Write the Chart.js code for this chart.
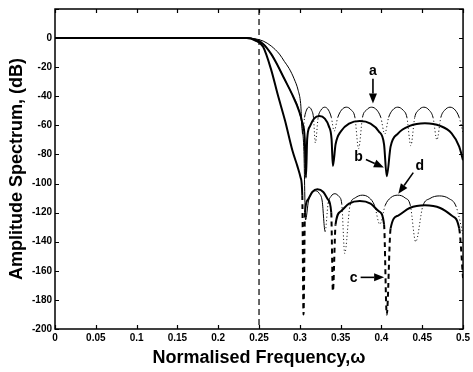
<!DOCTYPE html>
<html>
<head>
<meta charset="utf-8">
<script src="https://cdn.jsdelivr.net/npm/chart.js@4.4.0/dist/chart.umd.min.js"></script>
<style>
html, body { margin: 0; padding: 0; background: #fff; }
#wrap { width: 473px; height: 372px; }
</style>
</head>
<body>
<div id="wrap"><canvas id="chart" width="473" height="372"></canvas></div>
<script>
// axis ticks
const xTicks = [0, 0.05, 0.1, 0.15, 0.2, 0.25, 0.3, 0.35, 0.4, 0.45, 0.5];
const yTicks = [-200, -180, -160, -140, -120, -100, -80, -60, -40, -20, 0];
const yTicksFrame = [-200, -180, -160, -140, -120, -100, -80, -60, -40, -20, 0, 20];
const cutoff = 0.25;

// curve a: thin, small ripples near -47 dB
const freqA = [0, 0.1, 0.2, 0.235, 0.245, 0.255, 0.265, 0.275, 0.281, 0.287, 0.293, 0.298, 0.301,
  0.3035, 0.3058, 0.3082, 0.311, 0.3144, 0.3167,
  0.319, 0.3225, 0.3259, 0.3305, 0.3351, 0.3386,
  0.342, 0.3465, 0.351, 0.357, 0.363, 0.3675,
  0.372, 0.3768, 0.3816, 0.388, 0.3944, 0.3992,
  0.404, 0.4088, 0.4136, 0.42, 0.4264, 0.4312,
  0.436, 0.4408, 0.4456, 0.452, 0.4584, 0.4632,
  0.468, 0.4728, 0.4776, 0.484, 0.4904, 0.4952, 0.5];
const dbA = [0, 0, 0, 0, -0.5, -2, -5.5, -11, -16, -21, -28, -36, -45,
  -66, -54.5, -49.5, -47.5, -49.5, -54.5,
  -72, -54.5, -49.5, -47.5, -49.5, -54.5,
  -64, -54.5, -49.5, -47.5, -49.5, -54.5,
  -76, -54.5, -49.5, -47.5, -49.5, -54.5,
  -66, -54.5, -49.5, -47.5, -49.5, -54.5,
  -74, -54.5, -49.5, -47.5, -49.5, -54.5,
  -70, -54.5, -49.5, -47.5, -49.5, -54.5, -65];

// curve b: thick, stopband near -55 dB
const freqB = [0, 0.1, 0.2, 0.235, 0.245, 0.255, 0.265, 0.273, 0.281, 0.29, 0.299, 0.303, 0.306,
  0.3075, 0.309, 0.3125, 0.3174, 0.324, 0.3306, 0.3355, 0.3389,
  0.3405, 0.3438, 0.3504, 0.3603, 0.3735, 0.3867, 0.3966, 0.4032,
  0.4065, 0.4112, 0.4205, 0.4346, 0.4533, 0.472, 0.486, 0.4953, 0.5];
const dbB = [0, 0, 0, 0, -1, -4, -11, -19, -28, -38, -50, -58, -69,
  -96, -69.5, -60.5, -55.3, -53.5, -55.3, -60.5, -69.5,
  -88, -73, -64, -58.8, -57, -58.8, -64, -73,
  -95, -74.6, -65.5, -60.4, -58.6, -60.4, -65.5, -74.6, -84];

// curve c: thick, stopband near -110 dB, deep nulls dashed
const freqC = [0, 0.1, 0.2, 0.235, 0.245, 0.255, 0.265, 0.273, 0.282, 0.291, 0.297, 0.301, 0.303,
  0.3045, 0.3063, 0.3099, 0.3153, 0.3215, 0.3287, 0.3345, 0.3385,
  0.3405, 0.3438, 0.3504, 0.3603, 0.3735, 0.3867, 0.3966, 0.4032,
  0.4065, 0.4112, 0.4205, 0.4346, 0.4533, 0.472, 0.486, 0.4953, 0.5];
const dbC = [0, 0, 0, 0, -1.5, -6, -22, -39, -57, -77.5, -88, -96, -108,
  -190, -120, -111, -105.8, -104, -105.8, -111, -120,
  -174, -128, -119, -113.8, -112, -113.8, -119, -128,
  -190, -131, -122, -116.8, -115, -116.8, -122, -131, -165];

// curve d: thin, stopband near -108 dB, dips dotted
const freqD = [0, 0.1, 0.2, 0.235, 0.245, 0.255, 0.265, 0.273, 0.281, 0.29, 0.299, 0.303, 0.305,
  0.307, 0.3106, 0.3142, 0.319, 0.3238, 0.3274,
  0.331, 0.3346, 0.3382, 0.343, 0.3478, 0.3514,
  0.355, 0.3615, 0.3679, 0.3765, 0.3851, 0.3915,
  0.398, 0.4046, 0.4112, 0.42, 0.4288, 0.4354,
  0.442, 0.4507, 0.4594, 0.471, 0.4826, 0.4913, 0.5];
const dbD = [0, 0, 0, 0, -1, -4, -11, -19, -28, -38, -50, -62, -78,
  -125, -112, -106.8, -105, -106.8, -112,
  -133, -114, -108.8, -107, -108.8, -114,
  -148, -115, -109.8, -108, -109.8, -115,
  -128, -115, -109.8, -108, -109.8, -115,
  -140, -115.5, -110.3, -108.5, -110.3, -115.5, -135];

// curve labels with arrows (data units)
const labelText = ['a', 'b', 'c', 'd'];
const labelX = [0.3896, 0.372, 0.366, 0.447];
const labelY = [-22.6, -82, -165, -88];
const arrowFromX = [0.3896, 0.381, 0.3745, 0.439];
const arrowFromY = [-28, -83.5, -164.5, -92.5];
const arrowToX = [0.3896, 0.403, 0.4033, 0.4207];
const arrowToY = [-45, -89, -164.5, -107];

const FONT = "'Liberation Sans', Arial, sans-serif";

function pts(f, d) {
  return f.map((x, i) => ({ x: x, y: d[i] }));
}

function bothBelow(limit, pattern) {
  return ctx => (ctx.p0.parsed.y < limit && ctx.p1.parsed.y < limit) ? pattern : undefined;
}

function eitherBelow(limit, pattern) {
  return ctx => (Math.min(ctx.p0.parsed.y, ctx.p1.parsed.y) < limit) ? pattern : undefined;
}

const framePlugin = {
  id: 'frame',
  afterDatasetsDraw(chart) {
    const c = chart.ctx;
    const a = chart.chartArea;
    const sx = chart.scales.x, sy = chart.scales.y;
    c.save();
    c.strokeStyle = '#000';
    c.lineWidth = 1.5;
    c.strokeRect(a.left, a.top, a.right - a.left, a.bottom - a.top);
    c.lineWidth = 1.2;
    c.beginPath();
    xTicks.forEach(v => {
      const px = Math.round(sx.getPixelForValue(v)) + 0.5;
      c.moveTo(px, a.bottom); c.lineTo(px, a.bottom - 4);
      c.moveTo(px, a.top); c.lineTo(px, a.top + 4);
    });
    yTicksFrame.forEach(v => {
      const py = Math.round(sy.getPixelForValue(v)) + 0.5;
      c.moveTo(a.left, py); c.lineTo(a.left + 4, py);
      c.moveTo(a.right, py); c.lineTo(a.right - 4, py);
    });
    c.stroke();

    // labels and arrows
    c.fillStyle = '#000';
    c.font = 'bold 14px ' + FONT;
    c.textAlign = 'center';
    c.textBaseline = 'middle';
    labelText.forEach((t, i) => {
      c.fillText(t, sx.getPixelForValue(labelX[i]), sy.getPixelForValue(labelY[i]));
      const x0 = sx.getPixelForValue(arrowFromX[i]), y0 = sy.getPixelForValue(arrowFromY[i]);
      const x1 = sx.getPixelForValue(arrowToX[i]), y1 = sy.getPixelForValue(arrowToY[i]);
      const ang = Math.atan2(y1 - y0, x1 - x0);
      const hl = 10, hw = 4;
      const bx = x1 - hl * Math.cos(ang), by = y1 - hl * Math.sin(ang);
      c.lineWidth = 1.6;
      c.beginPath();
      c.moveTo(x0, y0); c.lineTo(bx, by);
      c.stroke();
      c.beginPath();
      c.moveTo(x1, y1);
      c.lineTo(bx + hw * Math.sin(ang), by - hw * Math.cos(ang));
      c.lineTo(bx - hw * Math.sin(ang), by + hw * Math.cos(ang));
      c.closePath();
      c.fill();
    });
    c.restore();
  }
};

const chart = new Chart(document.getElementById('chart'), {
  type: 'line',
  data: {
    datasets: [
      {
        data: [{ x: cutoff, y: 20 }, { x: cutoff, y: -200 }],
        borderColor: '#000', borderWidth: 1.2, borderDash: [6, 4], pointRadius: 0
      },
      {
        data: pts(freqA, dbA), borderColor: '#000', borderWidth: 1, pointRadius: 0,
        cubicInterpolationMode: 'monotone',
        segment: { borderDash: bothBelow(-52, [1, 2.5]) }
      },
      {
        data: pts(freqD, dbD), borderColor: '#000', borderWidth: 1, pointRadius: 0,
        cubicInterpolationMode: 'monotone',
        segment: { borderDash: bothBelow(-113, [1, 2.5]) }
      },
      {
        data: pts(freqB, dbB), borderColor: '#000', borderWidth: 2, pointRadius: 0,
        cubicInterpolationMode: 'monotone'
      },
      {
        data: pts(freqC, dbC), borderColor: '#000', borderWidth: 2, pointRadius: 0,
        cubicInterpolationMode: 'monotone',
        segment: { borderDash: eitherBelow(-140, [5, 4]) }
      }
    ]
  },
  options: {
    responsive: false,
    devicePixelRatio: 1,
    animation: false,
    events: [],
    layout: { padding: { top: 4, right: 6, left: 0, bottom: 0 } },
    plugins: { legend: { display: false }, tooltip: { enabled: false } },
    scales: {
      x: {
        type: 'linear', min: 0, max: 0.5,
        grid: { display: false, drawTicks: false }, border: { display: false },
        afterBuildTicks: s => { s.ticks = xTicks.map(v => ({ value: v })); },
        afterFit: s => { s.height = 43; },
        ticks: {
          color: '#000', padding: 3, maxRotation: 0,
          font: { family: FONT, size: 10, weight: 'bold' },
          callback: v => String(+(+v).toFixed(2))
        },
        title: {
          display: true, text: 'Normalised Frequency,ω', color: '#000',
          font: { family: FONT, size: 18, weight: 'bold' },
          padding: { top: 0, bottom: 3 }
        }
      },
      y: {
        type: 'linear', min: -200, max: 20,
        grid: { display: false, drawTicks: false }, border: { display: false },
        afterBuildTicks: s => { s.ticks = yTicks.map(v => ({ value: v })); },
        afterFit: s => { s.width = 55; },
        ticks: {
          color: '#000', padding: 3,
          font: { family: FONT, size: 10, weight: 'bold' },
          callback: v => String(v)
        },
        title: {
          display: true, text: 'Amplitude Spectrum, (dB)', color: '#000',
          font: { family: FONT, size: 18, weight: 'bold' },
          padding: { top: 6, bottom: 0 }
        }
      }
    }
  },
  plugins: [framePlugin]
});
</script>
</body>
</html>
